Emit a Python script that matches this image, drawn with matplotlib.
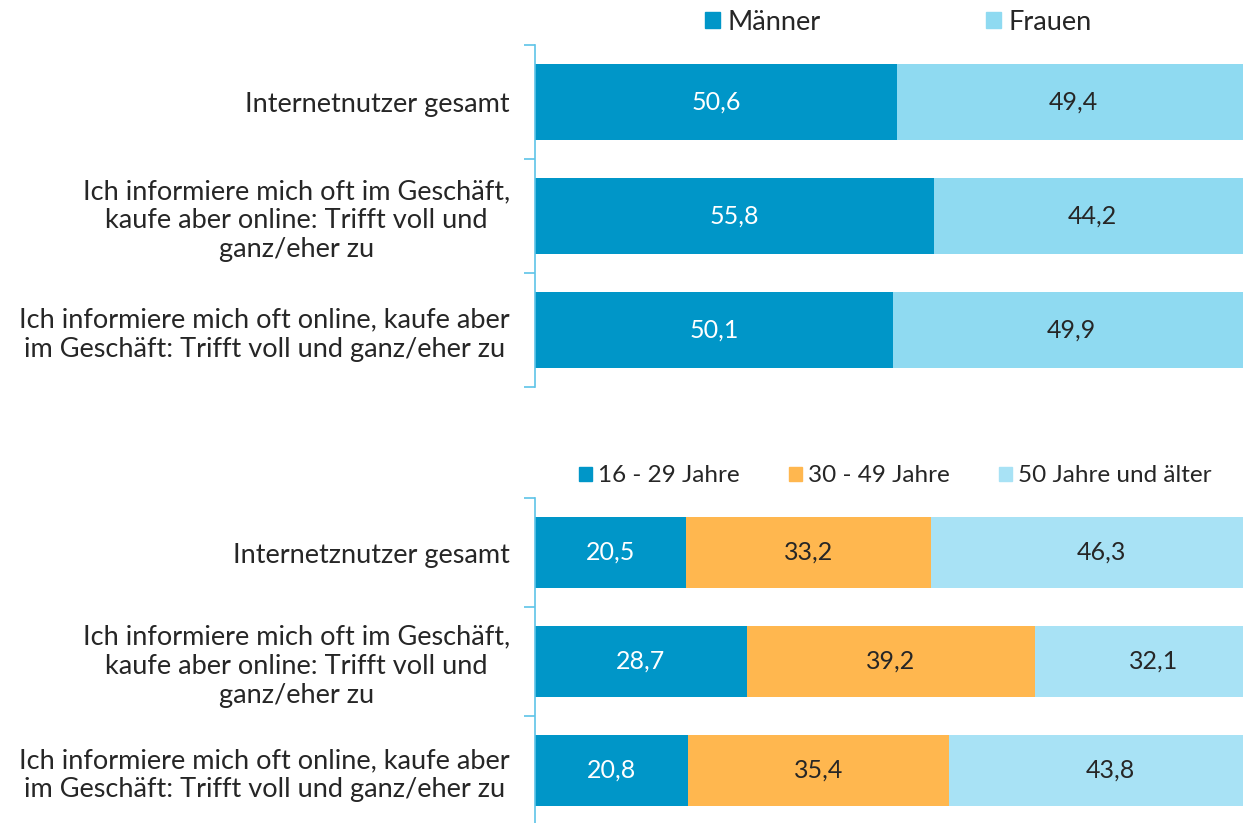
import matplotlib.pyplot as plt
from matplotlib.patches import Patch

# data
categories_gender = ["Internetnutzer gesamt",
                     "Ich informiere mich oft im Geschäft,\nkaufe aber online: Trifft voll und\nganz/eher zu",
                     "Ich informiere mich oft online, kaufe aber\nim Geschäft: Trifft voll und ganz/eher zu"]
maenner = [50.6, 55.8, 50.1]
frauen = [49.4, 44.2, 49.9]

categories_age = ["Internetznutzer gesamt",
                  "Ich informiere mich oft im Geschäft,\nkaufe aber online: Trifft voll und\nganz/eher zu",
                  "Ich informiere mich oft online, kaufe aber\nim Geschäft: Trifft voll und ganz/eher zu"]
age_16_29 = [20.5, 28.7, 20.8]
age_30_49 = [33.2, 39.2, 35.4]
age_50 = [46.3, 32.1, 43.8]

plt.rcParams['font.family'] = ['Lato', 'DejaVu Sans']
txt = "#262626"
axis_col = "#5ec4e8"
W, H = 1243, 823
fs = 19.5
vfs = 18


def fmt(v):
    return f"{v:.1f}".replace(".", ",")


def stacked(ax, cats, series, colors, textcolors, height):
    y = list(range(len(cats)))
    left = [0] * len(cats)
    for vals, c, tc in zip(series, colors, textcolors):
        ax.barh(y, vals, left=left, color=c, height=height)
        for yi, v, l in zip(y, vals, left):
            ax.text(l + v / 2, yi, fmt(v), ha="center", va="center",
                    color=tc, fontsize=vfs)
        left = [a + b for a, b in zip(left, vals)]
    ax.set_xlim(0, 100)
    ax.set_ylim(len(cats) - 0.5, -0.5)
    ax.set_yticks(y)
    ax.set_yticklabels(cats, fontsize=fs, color=txt, multialignment="center")
    ax.set_yticks([i - 0.5 for i in range(len(cats) + 1)], minor=True)
    ax.tick_params(axis="y", which="major", length=0, pad=18)
    ax.tick_params(axis="y", which="minor", length=8, color=axis_col, width=1.2)
    ax.set_xticks([])
    for s in ["top", "right", "bottom"]:
        ax.spines[s].set_visible(False)
    ax.spines["left"].set_color(axis_col)
    ax.spines["left"].set_linewidth(1.2)


fig = plt.figure(figsize=(W / 100, H / 100), dpi=100)

ax1 = fig.add_axes([535 / W, (H - 387) / H, 715 / W, 342 / H])
stacked(ax1, categories_gender, [maenner, frauen],
        ["#0096c8", "#8fdaf1"], ["white", txt], 0.667)
h1 = [Patch(color="#0096c8", label="Männer"), Patch(color="#8fdaf1", label="Frauen")]
fig.legend(handles=h1, loc="center left", bbox_to_anchor=(686 / W, 1 - 22 / H),
           ncol=2, frameon=False, fontsize=19.6, handlelength=0.55, handleheight=0.55,
           handletextpad=0.26, columnspacing=6.1, labelcolor=txt, borderpad=0.2)

ax2 = fig.add_axes([535 / W, (H - 825) / H, 737 / W, 327 / H])
stacked(ax2, categories_age, [age_16_29, age_30_49, age_50],
        ["#0096c8", "#ffb74f", "#a8e2f5"], ["white", txt, txt], 0.66)
h2 = [Patch(color="#0096c8", label="16 - 29 Jahre"),
      Patch(color="#ffb74f", label="30 - 49 Jahre"),
      Patch(color="#a8e2f5", label="50 Jahre und älter")]
fig.legend(handles=h2, loc="center left", bbox_to_anchor=(562 / W, 1 - 476 / H),
           ncol=3, frameon=False, fontsize=17.5, handlelength=0.55, handleheight=0.55,
           handletextpad=0.25, columnspacing=2.0, labelcolor=txt, borderpad=0.2)

fig.savefig("out.png", dpi=100)
